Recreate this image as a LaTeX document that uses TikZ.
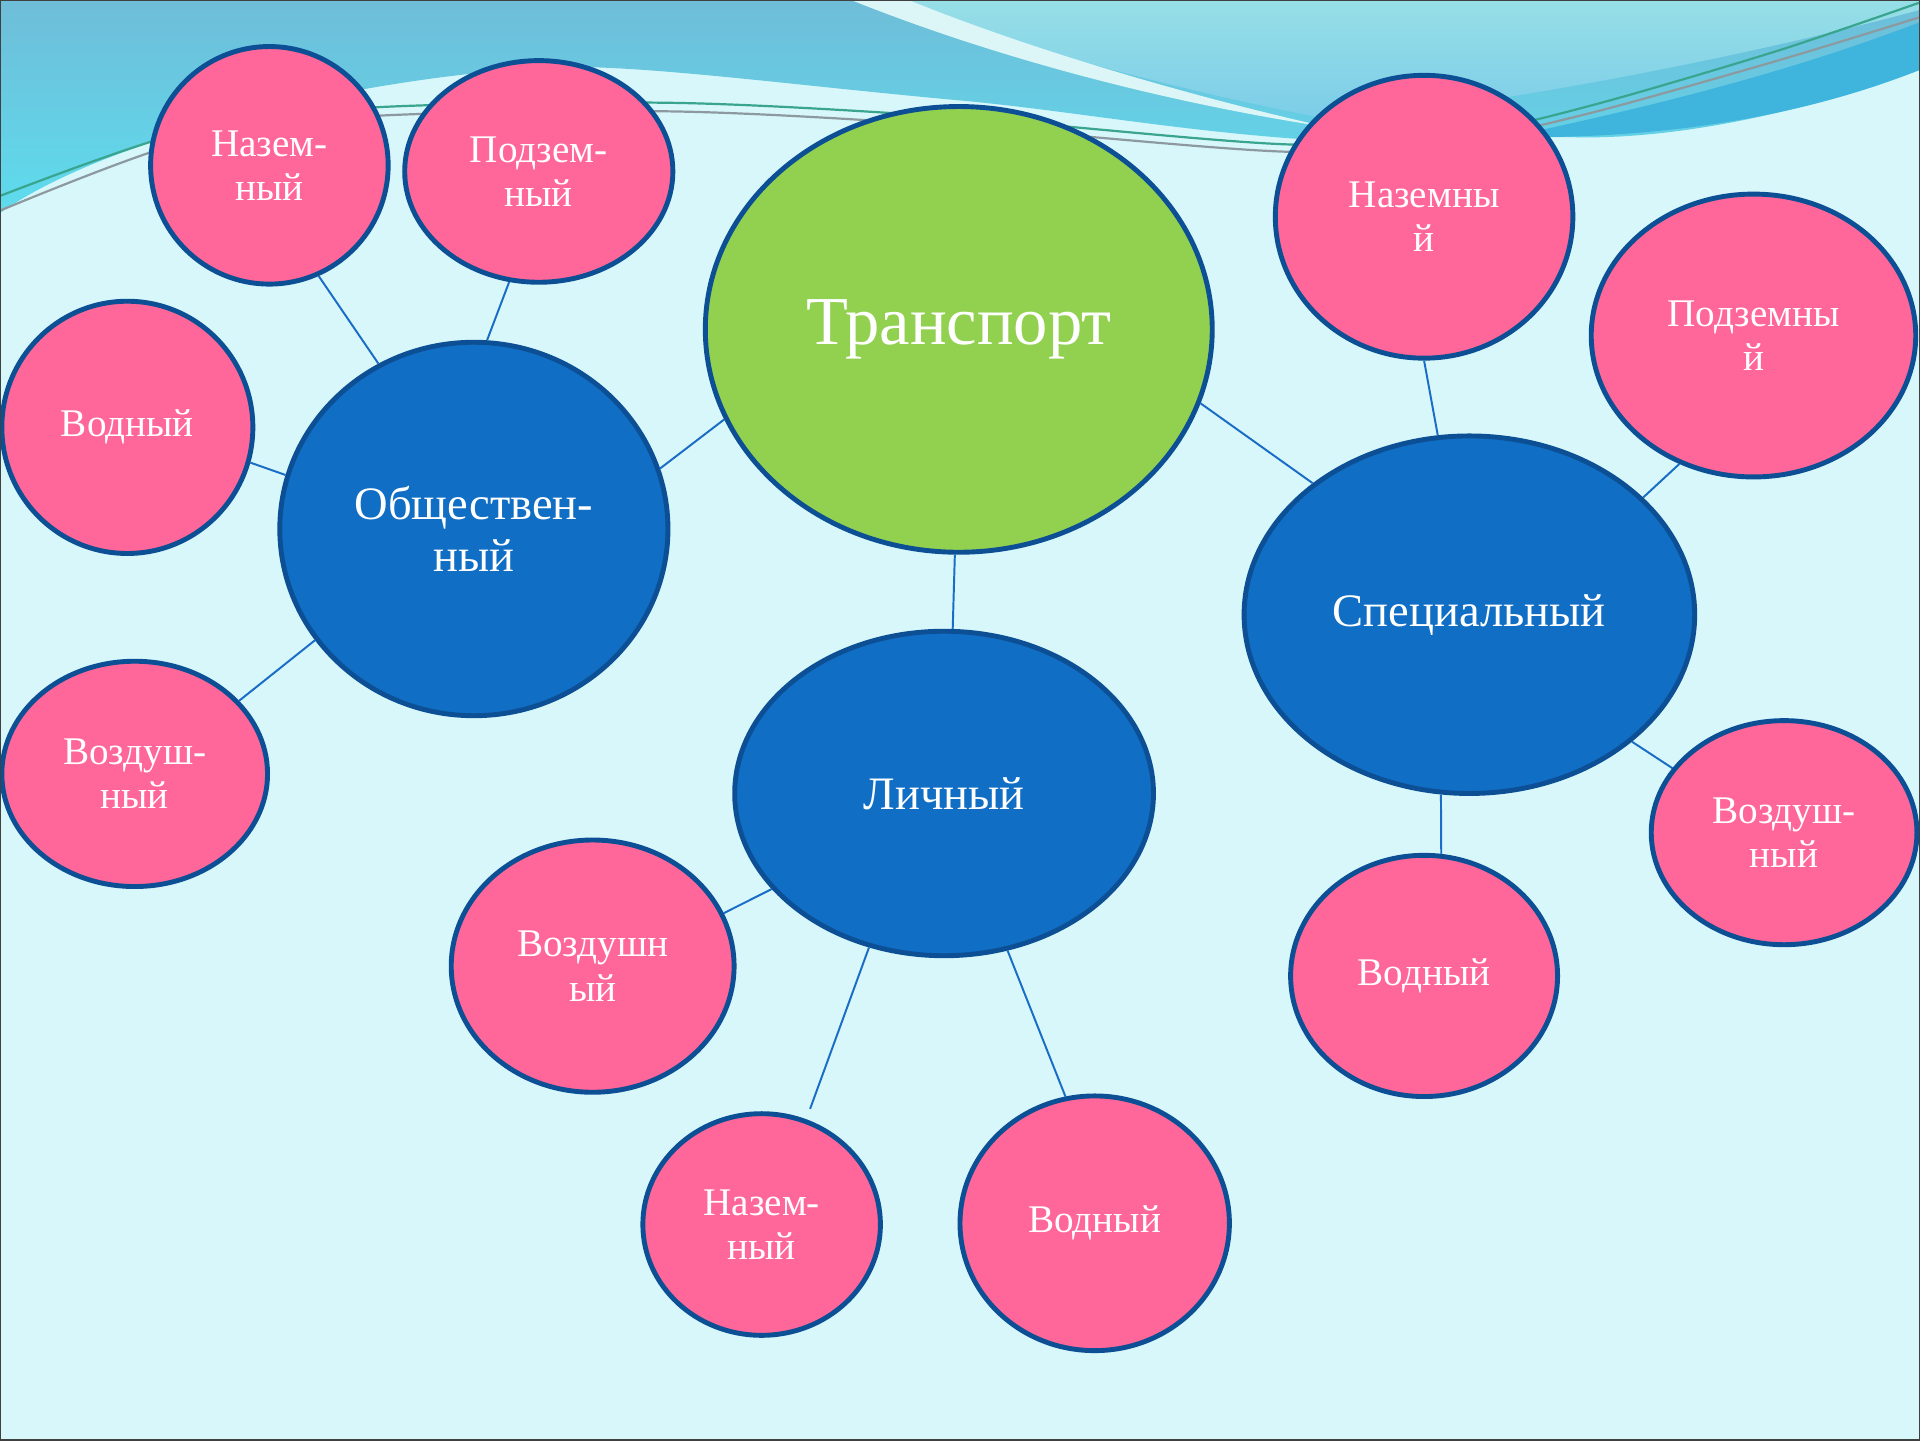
\documentclass[tikz,border=0pt]{standalone}
\usepackage{fontspec}
\setmainfont{Liberation Serif}
\usetikzlibrary{shapes.geometric}

\definecolor{paper}{HTML}{D7F7FA}
\definecolor{bandtop}{HTML}{6FBDD8}
\definecolor{bandlow}{HTML}{5EDCEE}
\definecolor{tealtop}{HTML}{97DFE7}
\definecolor{teallow}{HTML}{7CCDE8}
\definecolor{stripe}{HTML}{DCF6F8}
\definecolor{strongband}{HTML}{3FB5DD}
\definecolor{wiregreen}{HTML}{3AA58F}
\definecolor{wiregray}{HTML}{8C9AA0}
\definecolor{rim}{HTML}{0D4F94}
\definecolor{hubgreen}{HTML}{92D050}
\definecolor{hubblue}{HTML}{106EC4}
\definecolor{leafpink}{HTML}{FF6699}
\definecolor{linkblue}{HTML}{1A6DC6}

\newcommand{\rimw}{4pt}
\newcommand{\tn}{\node[ellipse, draw=rim, line width=\rimw, fill=hubgreen, text=white, inner sep=0pt, font=\fontsize{56}{60}\selectfont]}
\newcommand{\bn}{\node[ellipse, draw=rim, line width=\rimw, fill=hubblue, text=white, align=center, inner sep=0pt, font=\fontsize{38}{42}\selectfont]}
\newcommand{\pn}{\node[ellipse, draw=rim, line width=\rimw, fill=leafpink, text=white, align=center, inner sep=0pt, font=\fontsize{32}{36}\selectfont]}

\tikzset{
  link/.style={draw=linkblue, line width=1.6pt},
  wire/.style={line width=1.8pt}
}

\begin{document}
\begin{tikzpicture}[x=1pt, y=-1pt]
            \useasboundingbox (0,0) rectangle (1568,1176);

            % background
            \fill[paper] (0,0) rectangle (1568,1176);
            \shade[top color=bandtop, bottom color=bandlow]
                (0,0) -- (1568,0) -- (1568,57)
                .. controls (1450,100) and (1350,114) .. (1284,112)
                .. controls (1200,112) and (1120,118) .. (1054,113)
                .. controls (950,105) and (870,90) .. (784,82)
                .. controls (650,70) and (520,52) .. (450,55)
                .. controls (300,62) and (90,110) .. (0,174) -- cycle;
            \shade[top color=tealtop, bottom color=teallow]
                (715,0) .. controls (850,45) and (1000,82) .. (1090,98)
                .. controls (1250,82) and (1450,40) .. (1568,8) -- (1568,0) -- cycle;
            \fill[stripe]
                (695,0) .. controls (820,50) and (960,85) .. (1085,104)
                .. controls (960,76) and (830,36) .. (742,0) -- cycle;
            \fill[strongband]
                (1250,108) .. controls (1380,80) and (1480,52) .. (1568,18)
                -- (1568,57) .. controls (1470,96) and (1360,112) .. (1250,112) -- cycle;
            \draw[wire, wiregreen] plot[smooth] coordinates
                {(0,160) (150,108) (300,88) (550,84) (784,96) (1054,118) (1200,108) (1300,86) (1450,42) (1568,2)};
            \draw[wire, wiregray] plot[smooth] coordinates
                {(0,172) (150,116) (300,95) (550,91) (784,103) (1054,124) (1200,113) (1300,92) (1450,50) (1568,14)};

            % hubs
            \tn[minimum width=414pt, minimum height=364pt] (tr) at (783,269) {\raisebox{-4pt}{Транспорт}};
            \bn[minimum width=317pt, minimum height=305pt] (obs) at (387,432) {Обществен-\\ный};
            \bn[minimum width=368pt, minimum height=292pt] (spec) at (1200,502) {Специальный};
            \bn[minimum width=342pt, minimum height=265pt] (lich) at (771,648) {Личный};

            % leaves
            \pn[minimum width=194pt, minimum height=194pt] (naz1) at (220,135) {Назем-\\ный};
            \pn[minimum width=219pt, minimum height=181pt] (podz1) at (440,140) {Подзем-\\ный};
            \pn[minimum width=205pt, minimum height=206pt] (vod1) at (104,349) {Водный};
            \pn[minimum width=217pt, minimum height=184pt] (vozd1) at (110,632) {Воздуш-\\ный};
            \pn[minimum width=243pt, minimum height=231pt] (naz2) at (1163,177) {Наземны\\й};
            \pn[minimum width=265pt, minimum height=231pt] (podz2) at (1432,274) {Подземны\\й};
            \pn[minimum width=217pt, minimum height=183pt] (vozd2) at (1457,680) {Воздуш-\\ный};
            \pn[minimum width=218pt, minimum height=197pt] (vod2) at (1163,797) {Водный};
            \pn[minimum width=231pt, minimum height=206pt] (vozd3) at (484,789) {Воздушн\\ый};
            \pn[minimum width=194pt, minimum height=181pt] (naz3) at (622,1000) {Назем-\\ный};
            \pn[minimum width=220pt, minimum height=208pt] (vod3) at (894,999) {Водный};

            \draw[link]
                (obs.18) -- (tr.201)
                (tr.-17) -- (spec.140)
                (tr.-91) -- (lich.87)
                (naz1.-66) -- (obs.120)
                (podz1.-105) -- (obs.86)
                (vod1.-16) -- (obs.164)
                (vozd1.35) -- (obs.215)
                (naz2.-90) -- (spec.100)
                (podz2.240) -- (spec.34)
                (spec.-38) -- (vozd2.150)
                (spec.-99) -- (vod2.82)
                (vozd3.22) -- (lich.209)
                (lich.-68) -- (vod3.103)
                ;

            \draw[link, shorten >=9pt] (lich.244) -- (naz3.67);

            \draw[line width=2pt, black!75] (0,0) rectangle (1568,1176);
        \end{tikzpicture}
\end{document}
